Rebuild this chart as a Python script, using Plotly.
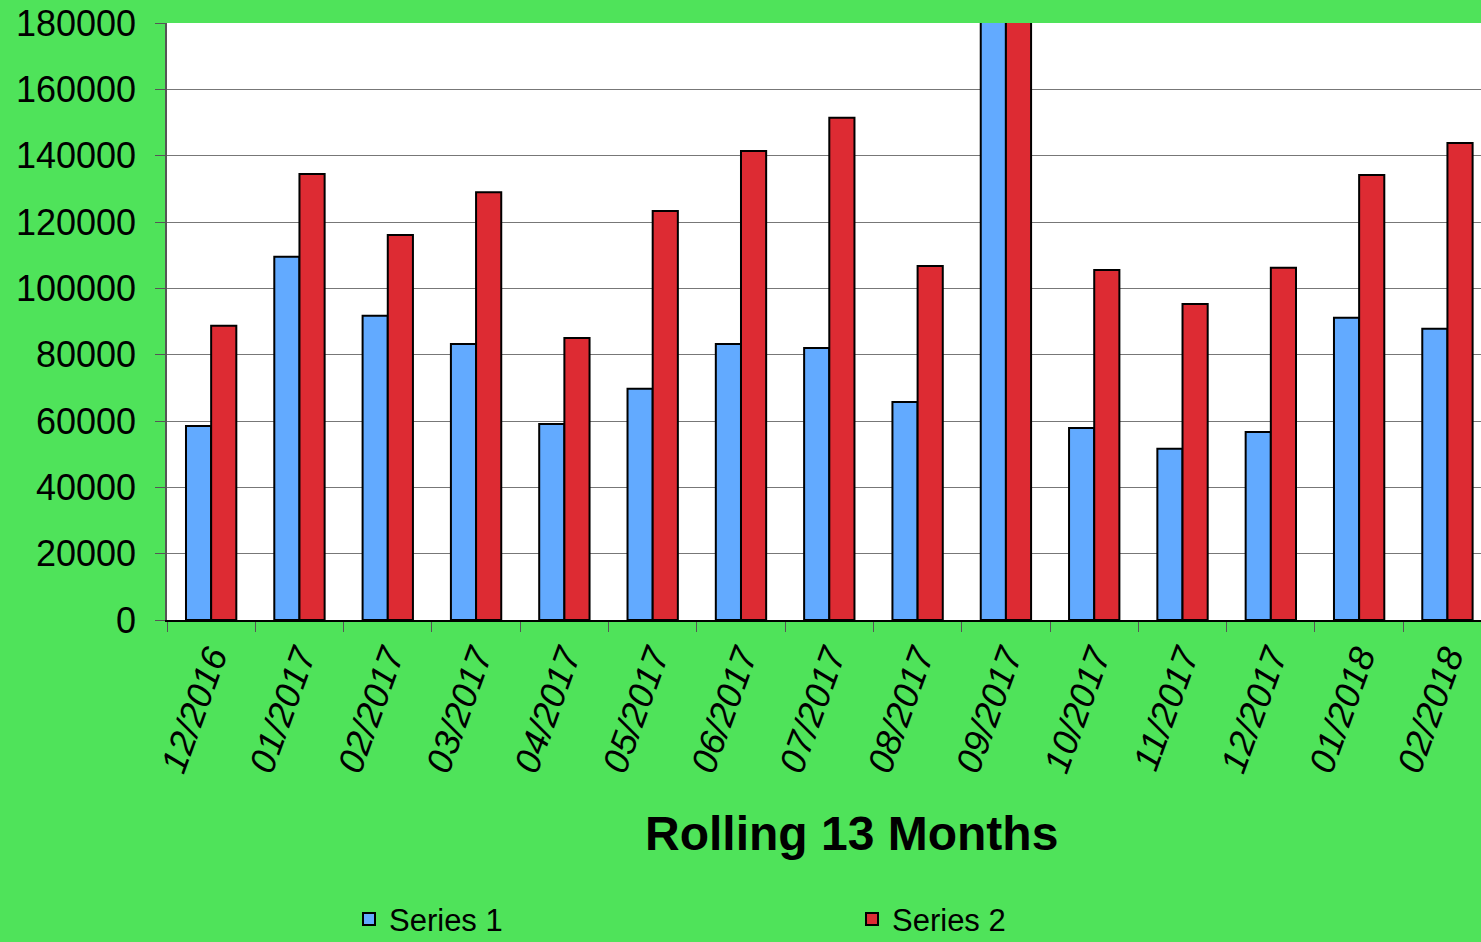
import plotly.graph_objects as go

months = ["12/2016", "01/2017", "02/2017", "03/2017", "04/2017", "05/2017", "06/2017",
          "07/2017", "08/2017", "09/2017", "10/2017", "11/2017", "12/2017", "01/2018", "02/2018"]
series1 = [58500, 109500, 91700, 83200, 59100, 69700, 83200, 82000, 65700, 200000,
           57900, 51600, 56700, 91100, 87800]
series2 = [88700, 134500, 116100, 129000, 85000, 123300, 141400, 151400, 106700, 210000,
           105500, 95300, 106200, 134200, 143800]
y_ticks = [0, 20000, 40000, 60000, 80000, 100000, 120000, 140000, 160000, 180000]

GREEN = "#4FE35A"
BLUE = "#62AAFF"
RED = "#DD2B33"
FONT = "Liberation Sans, Arial, sans-serif"

fig = go.Figure()
fig.add_trace(go.Bar(x=months, y=series1, name="Series 1", marker=dict(color=BLUE, line=dict(color="black", width=2))))
fig.add_trace(go.Bar(x=months, y=series2, name="Series 2", marker=dict(color=RED, line=dict(color="black", width=2))))

fig.update_layout(
    width=1481, height=942,
    paper_bgcolor=GREEN, plot_bgcolor="white",
    margin=dict(l=167, r=0, t=23, b=322, autoexpand=False),
    barmode="group", bargap=0.43, bargroupgap=0,
    font=dict(family=FONT, color="black"),
    showlegend=True,
    legend=dict(orientation="h", x=(349 - 167) / (1481 - 167), xanchor="left", y=-0.456, yanchor="top",
                font=dict(size=31, family=FONT), entrywidth=458, bgcolor="rgba(0,0,0,0)",
                itemwidth=30, tracegroupgap=0),
    annotations=[dict(text="<b>Rolling 13 Months</b>", xref="paper", yref="paper",
                      x=(851 - 167) / (1481 - 167), y=-0.358, xanchor="center", yanchor="middle",
                      showarrow=False, font=dict(size=48, family=FONT))],
)
fig.update_xaxes(
    range=[-0.5, 14.38], tickangle=-70, tickfont=dict(size=36, family=FONT, style="italic"),
    ticks="outside", tickson="boundaries", ticklen=10, tickcolor="#555555",
    showline=True, linecolor="black", linewidth=1.5, showgrid=False, automargin=False,
)
fig.update_yaxes(
    range=[0, 180000], tickvals=y_ticks, ticktext=[str(v) for v in y_ticks],
    tickfont=dict(size=36, family=FONT), ticks="outside", ticklen=10, tickcolor="#555555",
    showline=True, linecolor="#555555", linewidth=1.5, automargin=False,
    showgrid=True, gridcolor="#777777", gridwidth=1, zeroline=False, ticklabelstandoff=12,
)

fig.write_html("out.html", config={"displayModeBar": False},
               post_script="document.body.style.margin='0';document.body.style.padding='0';")
